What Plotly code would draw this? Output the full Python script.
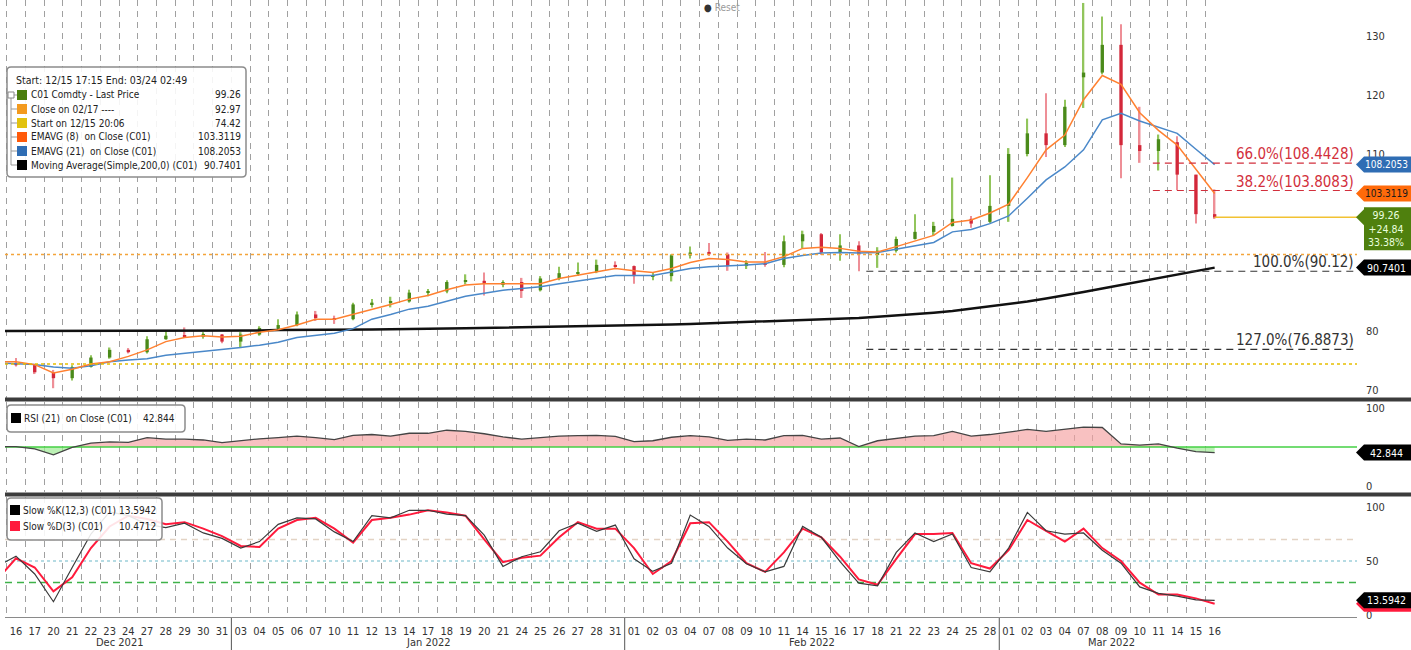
import plotly.graph_objects as go

FONT = "DejaVu Sans Condensed, Liberation Sans Narrow, DejaVu Sans, sans-serif"

# ---------------- data ----------------
months = ["Dec 2021", "Jan 2022", "Feb 2022", "Mar 2022"]
month_len = [12, 21, 20, 12]
day_labels = ["16", "17", "20", "21", "22", "23", "24", "27", "28", "29", "30", "31",
              "03", "04", "05", "06", "07", "10", "11", "12", "13", "14", "17", "18", "19", "20", "21",
              "24", "25", "26", "27", "28", "31",
              "01", "02", "03", "04", "07", "08", "09", "10", "11", "14", "15", "16", "17", "18",
              "21", "22", "23", "24", "25", "28",
              "01", "02", "03", "04", "07", "08", "09", "10", "11", "14", "15", "16"]

open_ = [74.6, 74.2, 73.0, 72.0, 73.9, 75.5, 76.8, 76.4, 78.6, 79.3, 79.0, 79.4,
         78.2, 79.4, 80.4, 81.0, 82.8, 82.2, 82.0, 84.5, 84.8, 85.0, 86.5, 86.7, 88.4, 88.5, 87.8,
         88.3, 86.9, 88.9, 89.8, 90.0, 91.2,
         91.0, 89.3, 89.3, 92.8, 93.4, 93.0, 91.0, 91.6, 91.2, 95.2, 96.4, 93.3, 94.5, 92.9,
         93.6, 95.6, 96.8, 97.8, 99.0, 98.5,
         101.2, 110.0, 113.5, 111.5, 123.0, 123.8, 128.5, 111.5, 110.5, 112.0, 106.5, 99.8]
high = [75.4, 74.3, 73.4, 74.2, 75.9, 77.2, 77.1, 79.1, 80.0, 80.6, 79.8, 79.5,
        79.8, 80.8, 82.0, 83.3, 83.4, 82.6, 84.8, 85.4, 85.8, 87.0, 87.1, 88.6, 89.6, 89.9, 88.6,
        89.0, 89.3, 90.9, 91.6, 92.1, 91.8,
        91.1, 90.0, 93.0, 94.3, 94.9, 93.3, 92.0, 93.4, 96.2, 97.0, 96.6, 96.4, 95.2, 94.2,
        96.0, 99.8, 98.5, 106.0, 99.5, 106.4,
        111.0, 116.0, 120.3, 119.2, 135.6, 133.3, 132.0, 118.0, 113.3, 113.0, 106.5, 104.0]
low = [74.0, 72.7, 70.3, 71.6, 73.8, 75.3, 76.2, 76.2, 78.5, 78.8, 78.7, 77.9,
       77.2, 79.2, 80.0, 80.8, 81.7, 81.2, 81.8, 84.0, 84.0, 84.8, 85.9, 86.4, 87.9, 86.0, 87.4,
       85.6, 86.7, 88.6, 89.3, 89.8, 90.7,
       88.0, 88.6, 88.4, 92.3, 92.7, 90.2, 90.5, 90.9, 90.8, 94.0, 92.9, 91.9, 90.12, 90.7,
       93.3, 95.5, 96.2, 97.7, 97.5, 98.3,
       98.5, 109.6, 109.5, 111.2, 117.8, 123.5, 105.9, 108.5, 107.2, 103.9, 98.2, 99.0]
close = [74.2, 73.0, 72.0, 73.9, 75.5, 76.8, 76.4, 78.6, 79.2, 79.1, 79.5, 78.2,
         79.4, 80.5, 81.0, 82.8, 82.2, 82.0, 84.5, 84.8, 85.0, 86.5, 86.7, 88.3, 88.5, 88.0, 88.3,
         86.8, 88.9, 89.8, 90.0, 91.2, 91.0,
         89.3, 89.4, 92.8, 93.3, 93.0, 91.0, 91.5, 91.2, 95.2, 96.4, 93.3, 94.5, 92.97, 93.6,
         95.6, 96.8, 97.8, 99.0, 98.2, 101.2,
         110.0, 113.5, 111.5, 118.0, 123.8, 128.5, 111.5, 110.5, 112.5, 106.5, 99.8, 99.26]

# indicator series start one session earlier (12/15)
ema8 = [74.8, 74.8, 74.3, 72.9, 73.5, 74.4, 74.8, 75.7, 76.8, 78.2, 78.9, 79.2, 79.0,
        79.1, 79.8, 80.2, 81.0, 82.0, 82.0, 82.8, 83.7, 84.5, 85.4, 86.0, 87.0, 87.8, 88.0,
        88.0, 88.0, 88.0, 88.9, 89.5, 90.0, 90.6,
        90.2, 89.9, 90.6, 91.6, 92.3, 92.1, 91.7, 91.7, 92.6, 94.0, 94.2, 94.0, 93.5, 93.4,
        94.3, 95.2, 96.2, 98.4, 98.8, 100.0,
        101.5, 106.0, 110.7, 113.2, 119.2, 123.3, 121.8, 117.0, 114.0, 111.5, 107.5, 103.3119]
ema21 = [74.6, 74.5, 74.3, 73.9, 73.7, 74.1, 74.8, 75.1, 75.3, 75.9, 76.2, 76.5, 76.8,
         77.2, 77.6, 78.1, 78.9, 79.3, 79.6, 80.4, 82.0, 82.8, 83.7, 84.2, 85.0, 85.9, 86.4,
         86.9, 87.2, 87.5, 88.0, 88.5, 88.9, 89.4,
         89.4, 89.4, 90.0, 90.6, 90.9, 91.0, 91.2, 91.4, 92.3, 92.8, 93.2, 93.3, 93.2, 93.3,
         93.9, 94.5, 95.0, 96.8, 97.2, 98.2,
         99.5, 102.5, 105.6, 107.8, 110.7, 115.8, 116.9, 115.6, 114.6, 113.5, 110.8, 108.2053]
ma200 = [80.0, 80.0, 80.0, 80.0, 80.0, 80.0, 80.0, 80.0, 80.05, 80.05, 80.1, 80.1, 80.1,
         80.1, 80.1, 80.15, 80.15, 80.2, 80.2, 80.2, 80.25, 80.3, 80.3, 80.35, 80.4, 80.45, 80.5,
         80.55, 80.6, 80.65, 80.7, 80.75, 80.8, 80.85,
         80.9, 81.0, 81.1, 81.2, 81.3, 81.4, 81.5, 81.6, 81.7, 81.8, 81.9, 82.0, 82.2, 82.4,
         82.6, 82.8, 83.1, 83.4, 83.8, 84.1,
         84.5, 85.0, 85.5, 86.0, 86.6, 87.2, 87.8, 88.4, 89.0, 89.6, 90.2, 90.7401]
rsi21 = [50.4, 50.4, 47.5, 40.0, 49.5, 55.0, 56.5, 56.0, 62.0, 60.0, 60.0, 59.0, 55.5,
         58.0, 60.5, 62.0, 64.0, 62.0, 59.5, 65.0, 66.0, 64.0, 67.6, 67.6, 71.5, 70.0, 67.0,
         63.0, 60.0, 62.0, 64.0, 64.5, 65.0, 63.5,
         57.0, 58.0, 62.5, 64.5, 63.0, 58.5, 60.0, 59.0, 64.5, 65.0, 60.0, 61.5, 50.5, 58.0,
         61.0, 64.0, 64.5, 70.0, 64.0, 66.0,
         69.0, 72.5, 70.0, 73.0, 75.5, 75.0, 54.0, 52.5, 54.0, 48.5, 44.0, 42.844]
slow_k = [45.0, 54.5, 38.0, 12.3, 44.0, 75.0, 95.6, 92.0, 84.0, 81.0, 85.0, 76.0, 71.0,
          62.0, 68.0, 84.0, 90.0, 89.0, 77.0, 68.0, 92.0, 90.0, 97.0, 97.0, 93.5, 92.0, 74.0,
          45.0, 54.0, 58.6, 78.0, 85.0, 77.5, 83.3,
          52.0, 40.4, 48.0, 92.6, 82.0, 62.0, 47.5, 40.0, 45.0, 82.0, 72.0, 49.4, 29.5, 27.0,
          58.0, 76.0, 68.0, 75.0, 44.0, 40.0,
          62.0, 95.0, 78.0, 75.0, 76.0, 60.0, 48.0, 26.0, 20.0, 17.5, 14.0, 13.5942]
slow_d = [33.0, 52.5, 44.0, 22.0, 35.0, 62.0, 82.0, 92.0, 89.0, 84.0, 86.0, 80.0, 73.0,
          64.0, 63.0, 80.0, 88.0, 90.0, 80.0, 67.0, 88.0, 90.0, 93.0, 97.0, 95.0, 92.0, 70.0,
          49.0, 53.0, 55.0, 72.0, 86.0, 80.0, 80.0,
          62.0, 38.0, 50.0, 85.0, 86.0, 68.0, 48.0, 40.0, 58.0, 80.0, 72.0, 54.0, 33.0, 28.0,
          52.0, 75.0, 75.0, 76.0, 48.0, 43.0,
          60.0, 88.0, 78.0, 68.0, 80.0, 62.0, 50.0, 30.0, 19.0, 19.0, 15.4, 10.4712]

last_price = 99.26
net_change = "+24.84"
pct_change = "33.38%"
close_0217 = 92.97
start_1215 = 74.42
fib_text = ["66.0%(108.4428)", "38.2%(103.8083)", "100.0%(90.12)", "127.0%(76.8873)"]
fib_value = [108.4428, 103.8083, 90.12, 76.8873]
fib_start = [60.7, 60.7, 45.4, 45.4]
fib_color = ["#d22f3c", "#d22f3c", "#333333", "#333333"]
rsi_mid = 50
stoch_levels = [70, 50, 30]

# ---------------- geometry helpers ----------------
W, H = 1411, 650
ML, MR, MT, MB = 5, 54, 0, 33
PW, PH = W - ML - MR, H - MT - MB
XR = [-0.587, 71.6]


def pxx(px):
    return (px - ML) / PW


def pxy(py):
    return (PH - (py - MT)) / PH


n = len(close)
xc = list(range(n))
xl = list(range(-1, n))

fig = go.Figure()

# ---------------- candles ----------------
up = [c >= o for o, c in zip(open_, close)]
wick_col = ["#92c55c" if u else "#ee8f97" for u in up]
body_col = ["#4a8a1a" if u else "#d3283a" for u in up]
fig.add_trace(go.Bar(x=xc, y=[h - l for h, l in zip(high, low)], base=low, width=0.08,
                     marker=dict(color=wick_col, line=dict(width=0)), xaxis="x", yaxis="y"))
fig.add_trace(go.Bar(x=xc, y=[max(abs(c - o), 0.15) for o, c in zip(open_, close)],
                     base=[min(o, c) for o, c in zip(open_, close)], width=0.18,
                     marker=dict(color=body_col, line=dict(width=0)), xaxis="x", yaxis="y"))

# ---------------- main lines ----------------
fig.add_trace(go.Scatter(x=xl, y=ma200, mode="lines", line=dict(color="#111111", width=2.5),
                         xaxis="x", yaxis="y"))
fig.add_trace(go.Scatter(x=xl, y=ema21, mode="lines", line=dict(color="#4a88c9", width=1.5),
                         xaxis="x", yaxis="y"))
fig.add_trace(go.Scatter(x=xl, y=ema8, mode="lines", line=dict(color="#ff8030", width=1.5),
                         xaxis="x", yaxis="y"))
fig.add_trace(go.Scatter(x=[xc[-1], XR[1]], y=[last_price, last_price], mode="lines",
                         line=dict(color="#f2c232", width=1.5), xaxis="x", yaxis="y"))

# ---------------- RSI ----------------
rsi_hi = [max(v, rsi_mid) for v in rsi21]
rsi_lo = [min(v, rsi_mid) for v in rsi21]
base = [rsi_mid] * len(rsi21)
fig.add_trace(go.Scatter(x=xl, y=base, mode="lines", line=dict(width=0), xaxis="x2", yaxis="y2"))
fig.add_trace(go.Scatter(x=xl, y=rsi_hi, mode="lines", line=dict(width=0), fill="tonexty",
                         fillcolor="rgba(244,160,160,0.65)", xaxis="x2", yaxis="y2"))
fig.add_trace(go.Scatter(x=xl, y=base, mode="lines", line=dict(width=0), xaxis="x2", yaxis="y2"))
fig.add_trace(go.Scatter(x=xl, y=rsi_lo, mode="lines", line=dict(width=0), fill="tonexty",
                         fillcolor="rgba(160,235,150,0.7)", xaxis="x2", yaxis="y2"))
fig.add_trace(go.Scatter(x=XR, y=[rsi_mid, rsi_mid], mode="lines",
                         line=dict(color="#45d045", width=1.5), xaxis="x2", yaxis="y2"))
fig.add_trace(go.Scatter(x=xl, y=rsi21, mode="lines", line=dict(color="#444444", width=1.3),
                         xaxis="x2", yaxis="y2"))

# ---------------- Stochastic ----------------
lvl_style = [dict(color="#e3d3c4", width=1.5, dash="6px,5px"),
             dict(color="#6db8c8", width=1.2, dash="dot"),
             dict(color="#3fb24a", width=1.5, dash="7px,5px")]
for lv, st in zip(stoch_levels, lvl_style):
    fig.add_trace(go.Scatter(x=XR, y=[lv, lv], mode="lines", line=st, xaxis="x3", yaxis="y3"))
fig.add_trace(go.Scatter(x=xl, y=slow_d, mode="lines", line=dict(color="#ff1a3c", width=2),
                         xaxis="x3", yaxis="y3"))
fig.add_trace(go.Scatter(x=xl, y=slow_k, mode="lines", line=dict(color="#3a3a3a", width=1.2),
                         xaxis="x3", yaxis="y3"))

# ---------------- axes ----------------
tickfont = dict(family=FONT, size=11, color="#333333")
minor = dict(tickmode="array", tickvals=[i - 0.5 for i in xc], showgrid=True,
             gridcolor="#a0a0a0", griddash="6px,5px", gridwidth=1, ticks="")
xcommon = dict(range=XR, showgrid=False, zeroline=False, ticks="", minor=minor,
               tickmode="array", tickvals=xc, fixedrange=True)
ycommon = dict(side="right", showgrid=False, zeroline=False, ticks="", tickfont=tickfont,
               ticklabelstandoff=8, tickmode="array", fixedrange=True)

main_dom = [pxy(398), 1]
rsi_dom = [pxy(492), pxy(402)]
sto_dom = [0, pxy(497)]

fig.update_layout(
    width=W, height=H,
    margin=dict(l=ML, r=MR, t=MT, b=MB, pad=0),
    paper_bgcolor="white", plot_bgcolor="white",
    showlegend=False, hovermode=False, barmode="overlay",
    font=dict(family=FONT, size=11, color="#333333"),
    xaxis=dict(**xcommon, anchor="y", showticklabels=False),
    xaxis2=dict(**xcommon, anchor="y2", matches="x", showticklabels=False),
    xaxis3=dict(**xcommon, anchor="y3", matches="x", showticklabels=True,
                ticktext=day_labels, tickfont=tickfont, ticklabelstandoff=4,
                showline=True, linecolor="#8a8a8a", linewidth=1),
    yaxis=dict(**ycommon, domain=main_dom, anchor="x", range=[68.64, 136.1],
               tickvals=[70, 80, 110, 120, 130]),
    yaxis2=dict(**ycommon, domain=rsi_dom, anchor="x2", range=[-7.7, 107.7],
                tickvals=[0, 100]),
    yaxis3=dict(**ycommon, domain=sto_dom, anchor="x3", range=[-1.85, 109.3],
                tickvals=[0, 50, 100]),
)

shapes = []
annos = []

# horizontal reference lines in main panel
shapes.append(dict(type="line", xref="paper", x0=0, x1=1, yref="y", y0=close_0217, y1=close_0217,
                   line=dict(color="#f4a43a", width=1.5, dash="dot")))
shapes.append(dict(type="line", xref="paper", x0=0, x1=1, yref="y", y0=start_1215, y1=start_1215,
                   line=dict(color="#e6bf00", width=1.5, dash="dot")))

# fibonacci lines + labels
for t, v, s, c in zip(fib_text, fib_value, fib_start, fib_color):
    shapes.append(dict(type="line", xref="x", x0=s, x1=XR[1], yref="y", y0=v, y1=v,
                       line=dict(color=c, width=1.2, dash="7px,5px")))
    annos.append(dict(text=t, xref="paper", x=pxx(1356), xanchor="right", yref="y", y=v,
                      yanchor="bottom", yshift=-2, showarrow=False,
                      font=dict(family=FONT, size=15, color=c)))

# panel separators
for py in (399.5, 494.5):
    shapes.append(dict(type="line", xref="paper", x0=0, x1=pxx(W), yref="paper",
                       y0=pxy(py), y1=pxy(py), line=dict(color="#3c3c3c", width=4)))

# month labels & separators
start = 0
for m, ln in zip(months, month_len):
    days = xc[start:start + ln]
    annos.append(dict(text=m, xref="x3", x=sum(days) / len(days), yref="paper", y=pxy(642),
                      yanchor="middle", showarrow=False, font=tickfont))
    if start > 0:
        shapes.append(dict(type="line", xref="x3", x0=start - 0.5, x1=start - 0.5, yref="paper",
                           y0=pxy(618), y1=pxy(650), line=dict(color="#555555", width=1)))
    start += ln


def rounded_box(x0, y0, x1, y1, r=4, fill="rgba(255,255,255,0.88)", line="#8c8c8c", lw=1.5):
    rx, ry = r / PW, r / PH
    X0, X1 = pxx(x0), pxx(x1)
    Y0, Y1 = pxy(y0), pxy(y1)  # Y0 top, Y1 bottom
    p = (f"M {X0 + rx} {Y0} L {X1 - rx} {Y0} Q {X1} {Y0} {X1} {Y0 - ry} "
         f"L {X1} {Y1 + ry} Q {X1} {Y1} {X1 - rx} {Y1} L {X0 + rx} {Y1} "
         f"Q {X0} {Y1} {X0} {Y1 + ry} L {X0} {Y0 - ry} Q {X0} {Y0} {X0 + rx} {Y0} Z")
    return dict(type="path", xref="paper", yref="paper", path=p, fillcolor=fill,
                line=dict(color=line, width=lw), layer="above")


def pxrect(x0, y0, x1, y1, color, line=None):
    return dict(type="rect", xref="paper", yref="paper", x0=pxx(x0), x1=pxx(x1),
                y0=pxy(y1), y1=pxy(y0), fillcolor=color,
                line=dict(color=line or color, width=1 if line else 0), layer="above")


def text(t, x, y, anchor="left", color="#222222", size=10.5):
    return dict(text=t, xref="paper", x=pxx(x), xanchor=anchor, yref="paper", y=pxy(y),
                yanchor="middle", showarrow=False, font=dict(family=FONT, size=size, color=color))


# main legend
leg_rows = [("#4a7d0c", "C01 Comdty - Last Price", f"{last_price:.2f}"),
            ("#f39a1e", "Close on 02/17 ----", f"{close_0217:.2f}"),
            ("#e2c20e", "Start on 12/15 20:06", f"{start_1215:.2f}"),
            ("#ff5a0a", "EMAVG (8)  on Close (C01)", f"{ema8[-1]:.4f}"),
            ("#2f6db4", "EMAVG (21)  on Close (C01)", f"{ema21[-1]:.4f}"),
            ("#000000", "Moving Average(Simple,200,0) (C01)", f"{ma200[-1]:.4f}")]
shapes.append(rounded_box(7, 67, 246, 177))
annos.append(text("Start: 12/15 17:15 End: 03/24 02:49", 14, 80))
row_y = [95, 109, 123, 137, 151, 165]
shapes.append(dict(type="line", xref="paper", yref="paper", x0=pxx(11), x1=pxx(11),
                   y0=pxy(98), y1=pxy(165), line=dict(color="#999999", width=1), layer="above"))
for (c, lab, val), yy in zip(leg_rows, row_y):
    shapes.append(dict(type="line", xref="paper", yref="paper", x0=pxx(11), x1=pxx(17),
                       y0=pxy(yy), y1=pxy(yy), line=dict(color="#999999", width=1), layer="above"))
    shapes.append(pxrect(17, yy - 5, 27, yy + 5, c))
    annos.append(text(lab, 29, yy, size=10))
    annos.append(text(val, 243, yy, anchor="right", size=10))
shapes.append(pxrect(8, 92, 14, 98, "white", line="#888888"))

# RSI legend
shapes.append(rounded_box(7, 405, 185, 432))
shapes.append(pxrect(11, 413, 21, 423, "#000000"))
annos.append(text("RSI (21)  on Close (C01)", 22, 418, size=10))
annos.append(text(f"{rsi21[-1]:.3f}", 177, 418, anchor="right", size=10))

# Stochastic legend
shapes.append(rounded_box(7, 498, 162, 540))
shapes.append(pxrect(10, 505, 20, 515, "#000000"))
shapes.append(pxrect(10, 521, 20, 531, "#ff1a3c"))
annos.append(text("Slow %K(12,3) (C01)", 21, 510, size=10))
annos.append(text(f"{slow_k[-1]:.4f}", 158, 510, anchor="right", size=10))
annos.append(text("Slow %D(3) (C01)", 21, 526, size=10))
annos.append(text(f"{slow_d[-1]:.4f}", 158, 526, anchor="right", size=10))


# right-hand value tags
def tag(yref, val, label, bg, fg, up_px=8, down_px=8, size=10.5):
    shapes.append(dict(type="path", xref="paper", xsizemode="pixel", xanchor=pxx(1362),
                       yref=yref, ysizemode="pixel", yanchor=val,
                       path=f"M -6 0 L 2 {min(up_px, 8)} L 2 {up_px} L 70 {up_px} "
                            f"L 70 {-down_px} L 2 {-down_px} L 2 -8 Z",
                       fillcolor=bg, line=dict(color=bg, width=0), layer="above"))
    annos.append(dict(text=label, xref="paper", x=pxx(1386), xanchor="center", yref=yref, y=val,
                      yanchor="middle", yshift=(up_px - down_px) / 2, showarrow=False,
                      align="center",
                      font=dict(family=FONT, size=size, color=fg)))


tag("y", ema21[-1], f"{ema21[-1]:.4f}", "#2f6db4", "white", size=10)
tag("y", ema8[-1], f"{ema8[-1]:.4f}", "#ff6a0a", "#1a1a1a", size=10)
tag("y", last_price, f"{last_price:.2f}<br>{net_change}<br>{pct_change}", "#4f800e", "#eaffdf",
    up_px=10, down_px=33)
tag("y", ma200[-1], f"{ma200[-1]:.4f}", "#000000", "white")
tag("y2", rsi21[-1], f"{rsi21[-1]:.3f}", "#000000", "white")
tag("y3", slow_d[-1], "", "#ff1a3c", "white")
tag("y3", slow_k[-1], f"{slow_k[-1]:.4f}", "#000000", "white")

# reset button remnant at top
annos.append(dict(text="<span style='color:#333'>●</span> Reset", xref="paper", x=pxx(722),
                  yref="paper", y=pxy(7), showarrow=False, xanchor="center", yanchor="middle",
                  font=dict(family=FONT, size=10, color="#9a9a9a")))

fig.update_layout(shapes=shapes, annotations=annos)
fig.write_html("out.html", config={"displayModeBar": False},
               post_script="document.body.style.margin='0px';document.body.style.overflow='hidden';")
